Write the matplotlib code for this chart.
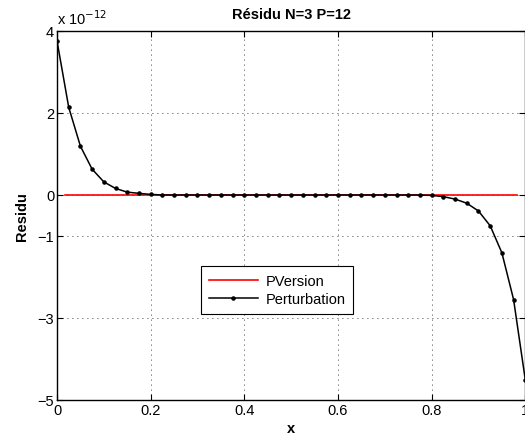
import numpy as np
import matplotlib
matplotlib.use("Agg")
import matplotlib.pyplot as plt

plt.rcParams['font.family'] = ['Liberation Sans', 'DejaVu Sans']

# residu values (units of 1e-12)
x_pert = np.linspace(0, 1, 41)
res_left = [3.76, 2.14, 1.19, 0.63, 0.32, 0.16, 0.07, 0.04, 0.015]
res_mid = [0.0] * 23
res_right = [-0.01, -0.04, -0.1, -0.2, -0.39, -0.75, -1.41, -2.55, -4.51]
res_pert = np.array(res_left + res_mid + res_right) * 1e-12

x_pver = [0.017, 0.983]
res_pver = [0.0, 0.0]

yticks = [4, 2, 0, -1, -3, -5]
ytick_labels = ['4', '2', '0', '\u22121', '\u22123', '\u22125']
xticks = [0, 0.2, 0.4, 0.6, 0.8, 1]
xtick_labels = ['0', '0.2', '0.4', '0.6', '0.8', '1']

fs = 10.5
fig = plt.figure(figsize=(5.25, 4.39), dpi=100)
ax = fig.add_axes([57/525, 1-401/439, (525.3-57)/525, (401-32)/439])

ax.plot(x_pver, res_pver, color='red', lw=1.2, label='PVersion')
ax.plot(x_pert, res_pert, color='black', lw=1.1, marker='.', ms=4.5, label='Perturbation')

ax.set_xlim(0, 1)
ax.set_ylim(-5e-12, 4e-12)
ax.set_xticks(xticks)
ax.set_xticklabels(xtick_labels)
ax.set_yticks([v * 1e-12 for v in yticks])
ax.set_yticklabels(ytick_labels)
ax.tick_params(direction='in', top=True, right=True, labelsize=fs, length=4, width=0.8, pad=2)
for s in ax.spines.values():
    s.set_linewidth(1.0)
ax.grid(True, linestyle=(0, (1, 5)), color='black', lw=0.6)

ax.text(0.0, 1.012, 'x 10$^{-12}$', transform=ax.transAxes, fontsize=fs, ha='left', va='bottom')
ax.set_title('R\u00e9sidu N=3 P=12', fontsize=fs, fontweight='bold', pad=9)
ax.set_xlabel('x', fontsize=fs, fontweight='bold', labelpad=3)
ax.set_ylabel('Residu', fontsize=fs, fontweight='bold', labelpad=6)

leg = ax.legend(loc='center', bbox_to_anchor=((277-57)/468.3, (401-291)/369),
                fontsize=fs, fancybox=False, edgecolor='black', framealpha=1,
                handlelength=3.4, handletextpad=0.5, borderpad=0.55, labelspacing=0.25)
leg.get_frame().set_linewidth(0.8)

fig.savefig('out.png', dpi=100)
